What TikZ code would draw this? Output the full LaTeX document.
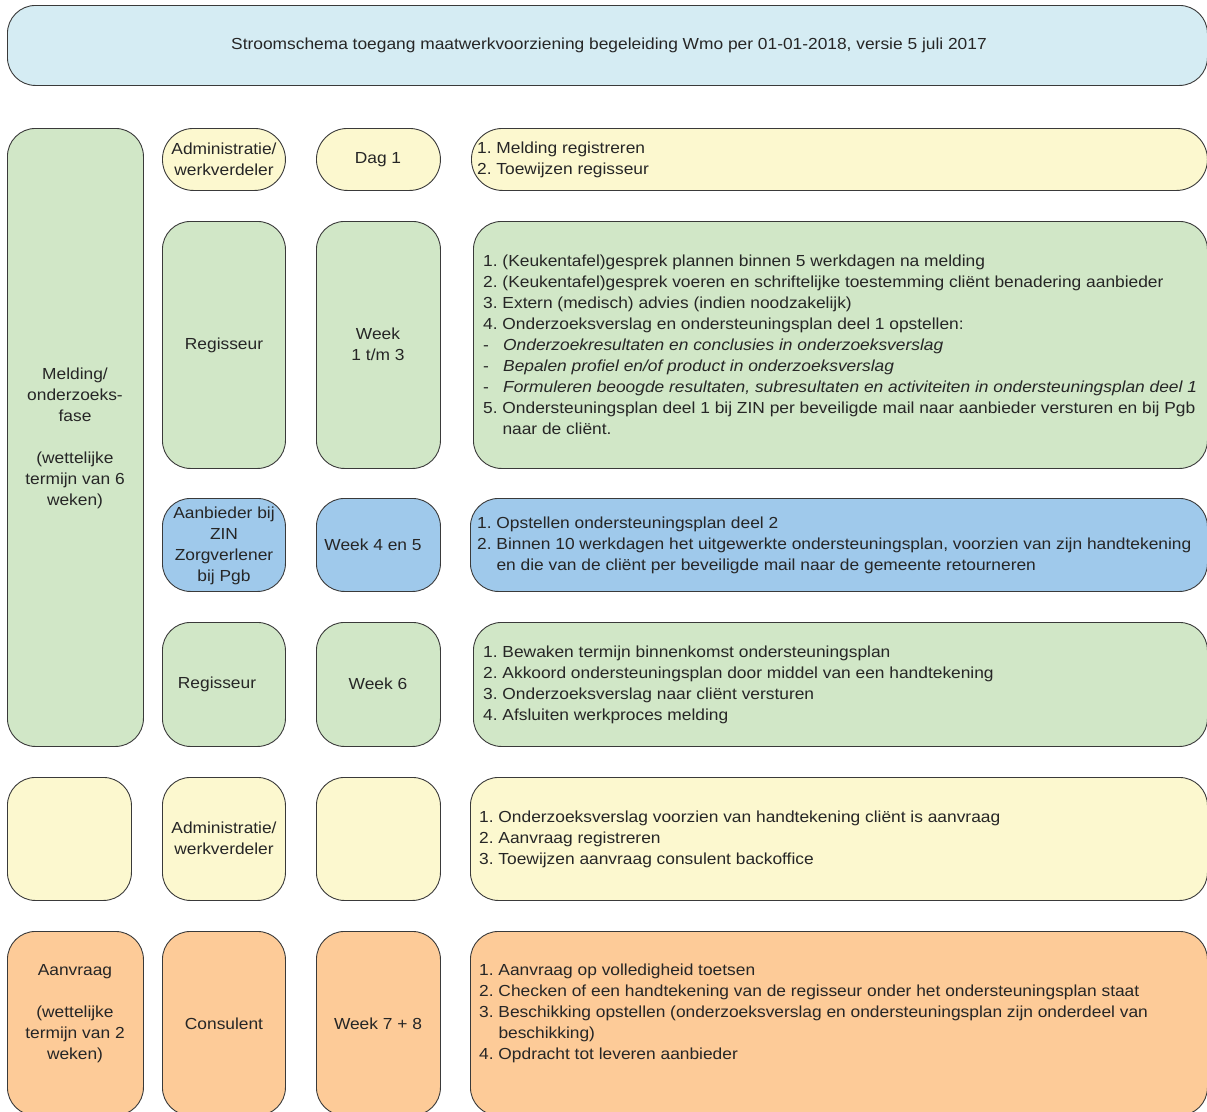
\documentclass[tikz,border=0pt]{standalone}
\usepackage{fontspec}
\setmainfont{Liberation Sans}[FakeStretch=1.085]
\frenchspacing
\definecolor{hdrc}{HTML}{D5ECF3}
\definecolor{yelc}{HTML}{FCF8CF}
\definecolor{grnc}{HTML}{D1E7C7}
\definecolor{bluc}{HTML}{9FC9EB}
\definecolor{orac}{HTML}{FDCB98}
\definecolor{linec}{HTML}{3A3A3A}
\definecolor{textc}{HTML}{262626}
\begin{document}
\frenchspacing
\begin{tikzpicture}[x=1pt,y=-1pt,
  box/.style={draw=linec, line width=0.9pt, rounded corners=28pt, inner sep=0pt, anchor=north west},
  txt/.style={text=textc, inner sep=0pt, font=\fontsize{16}{21}\selectfont\frenchspacing, align=center},
  ltxt/.style={txt, align=left, anchor=west}]
\useasboundingbox (0,0) rectangle (1207,1111);
% header
\node[box, fill=hdrc, minimum width=1200pt, minimum height=80pt] (hdr) at (7,5) {};
\node[txt] (hdrt) at (609,45) {Stroomschema toegang maatwerkvoorziening begeleiding Wmo per 01-01-2018, versie 5 juli 2017};
% left big box
\node[box, fill=grnc, minimum width=136pt, minimum height=618pt] (meld) at (7,128) {};
\node[txt] (meldt) at (75,438) {Melding/\\onderzoeks-\\fase\\[21pt](wettelijke\\termijn van 6\\weken)};
% row 1
\node[box, fill=yelc, minimum width=123pt, minimum height=62pt, rounded corners=31pt] (adm1) at (162,128) {};
\node[txt] (adm1t) at (224,159.5) {Administratie/\\werkverdeler};
\node[box, fill=yelc, minimum width=124pt, minimum height=62pt, rounded corners=31pt] (dag1) at (316,128) {};
\node[txt] (dag1t) at (378,160) {Dag 1};
\node[box, fill=yelc, minimum width=736pt, minimum height=62pt, rounded corners=31pt] (r1) at (471,128) {};
\node[ltxt] (r1t) at (477,160) {1. Melding registreren\\2. Toewijzen regisseur};
% row 2
\node[box, fill=grnc, minimum width=123pt, minimum height=247pt] (reg2) at (162,221) {};
\node[txt] (reg2t) at (224,345) {Regisseur};
\node[box, fill=grnc, minimum width=124pt, minimum height=247pt] (wk2) at (316,221) {};
\node[txt] (wk2t) at (378,344.5) {Week\\1 t/m 3};
\node[box, fill=grnc, minimum width=734pt, minimum height=247pt] (r2) at (473,221) {};
\node[ltxt] (r2t) at (483,344.5) {1. (Keukentafel)gesprek plannen binnen 5 werkdagen na melding\\
2. (Keukentafel)gesprek voeren en schriftelijke toestemming cliënt benadering aanbieder\\
3. Extern (medisch) advies (indien noodzakelijk)\\
4. Onderzoeksverslag en ondersteuningsplan deel 1 opstellen:\\
\makebox[20pt][l]{-}\textit{Onderzoekresultaten en conclusies in onderzoeksverslag}\\
\makebox[20pt][l]{-}\textit{Bepalen profiel en/of product in onderzoeksverslag}\\
\makebox[20pt][l]{-}\textit{Formuleren beoogde resultaten, subresultaten en activiteiten in ondersteuningsplan deel 1}\\
5. Ondersteuningsplan deel 1 bij ZIN per beveiligde mail naar aanbieder versturen en bij Pgb\\
\phantom{5. }naar de cliënt.};
% row 3
\node[box, fill=bluc, minimum width=123pt, minimum height=93pt] (anb3) at (162,498) {};
\node[txt] (anb3t) at (224,545.5) {Aanbieder bij\\ZIN\\Zorgverlener\\bij Pgb};
\node[box, fill=bluc, minimum width=124pt, minimum height=93pt] (wk3) at (316,498) {};
\node[txt] (wk3t) at (373,545) {Week 4 en 5};
\node[box, fill=bluc, minimum width=737pt, minimum height=93pt] (r3) at (470,498) {};
\node[ltxt] (r3t) at (477,545) {1. Opstellen ondersteuningsplan deel 2\\
2. Binnen 10 werkdagen het uitgewerkte ondersteuningsplan, voorzien van zijn handtekening\\
\phantom{2. }en die van de cliënt per beveiligde mail naar de gemeente retourneren};
% row 4
\node[box, fill=grnc, minimum width=123pt, minimum height=124pt] (reg4) at (162,622) {};
\node[txt] (reg4t) at (217,684) {Regisseur};
\node[box, fill=grnc, minimum width=124pt, minimum height=124pt] (wk4) at (316,622) {};
\node[txt] (wk4t) at (378,684) {Week 6};
\node[box, fill=grnc, minimum width=734pt, minimum height=124pt] (r4) at (473,622) {};
\node[ltxt] (r4t) at (483,684.5) {1. Bewaken termijn binnenkomst ondersteuningsplan\\
2. Akkoord ondersteuningsplan door middel van een handtekening\\
3. Onderzoeksverslag naar cliënt versturen\\
4. Afsluiten werkproces melding};
% row 5
\node[box, fill=yelc, minimum width=124pt, minimum height=123pt] (y5a) at (7,777) {};
\node[box, fill=yelc, minimum width=123pt, minimum height=123pt] (adm5) at (162,777) {};
\node[txt] (adm5t) at (224,838.5) {Administratie/\\werkverdeler};
\node[box, fill=yelc, minimum width=124pt, minimum height=123pt] (y5c) at (316,777) {};
\node[box, fill=yelc, minimum width=737pt, minimum height=123pt] (r5) at (470,777) {};
\node[ltxt] (r5t) at (479,839) {1. Onderzoeksverslag voorzien van handtekening cliënt is aanvraag\\
2. Aanvraag registreren\\
3. Toewijzen aanvraag consulent backoffice};
% row 6
\node[box, fill=orac, minimum width=136pt, minimum height=184pt] (o6a) at (7,931) {};
\node[txt] (o6at) at (75,1013.5) {Aanvraag\\[21pt](wettelijke\\termijn van 2\\weken)};
\node[box, fill=orac, minimum width=123pt, minimum height=184pt] (cons6) at (162,931) {};
\node[txt] (cons6t) at (224,1024) {Consulent};
\node[box, fill=orac, minimum width=124pt, minimum height=184pt] (wk6) at (316,931) {};
\node[txt] (wk6t) at (378,1024) {Week 7 + 8};
\node[box, fill=orac, minimum width=737pt, minimum height=184pt] (r6) at (470,931) {};
\node[ltxt] (r6t) at (479,1013.5) {1. Aanvraag op volledigheid toetsen\\
2. Checken of een handtekening van de regisseur onder het ondersteuningsplan staat\\
3. Beschikking opstellen (onderzoeksverslag en ondersteuningsplan zijn onderdeel van\\
\phantom{3. }beschikking)\\
4. Opdracht tot leveren aanbieder};
\end{tikzpicture}
\end{document}
